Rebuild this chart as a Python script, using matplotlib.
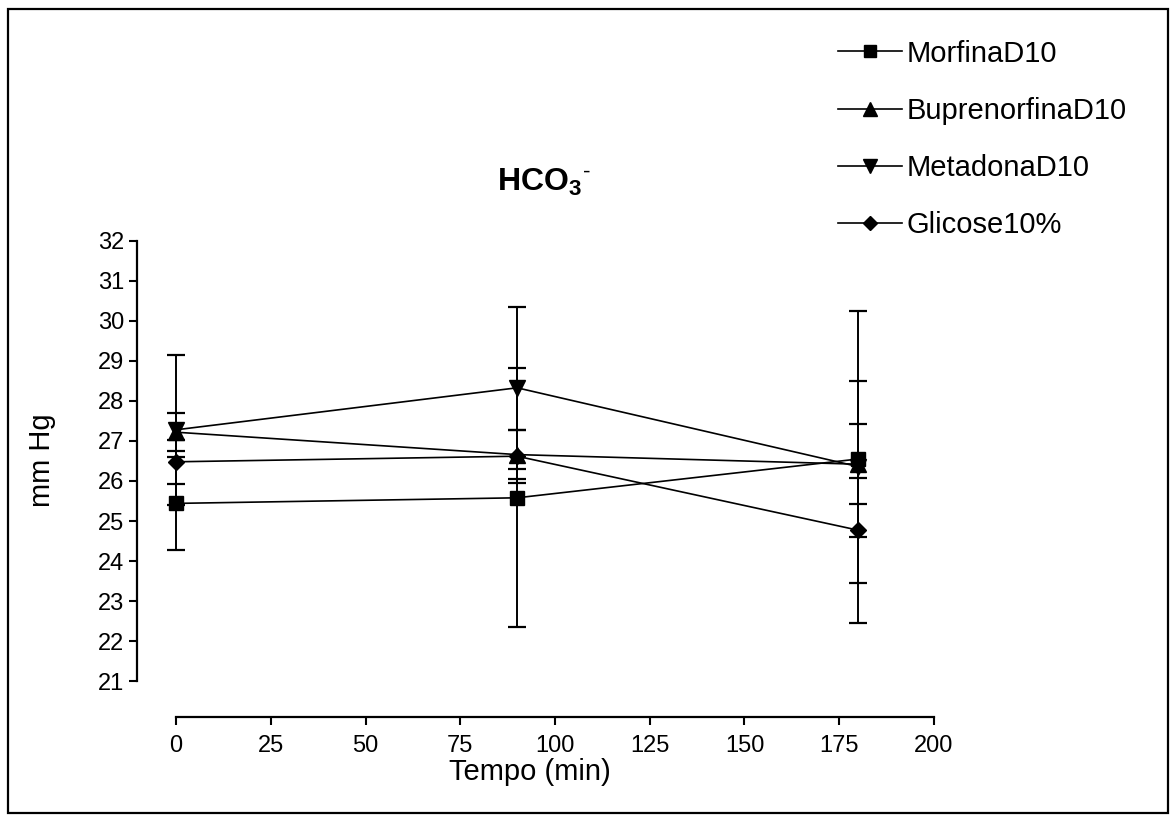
import matplotlib.pyplot as plt
from matplotlib.patches import Rectangle

plt.rcParams['font.family'] = ['Liberation Sans', 'DejaVu Sans']
plt.rcParams['mathtext.fontset'] = 'custom'
plt.rcParams['mathtext.rm'] = 'Liberation Sans'
plt.rcParams['mathtext.bf'] = 'Liberation Sans:bold'

# data
tempo = [0, 90, 180]
morfina = [25.44, 25.58, 26.55]
morfina_sem = [1.17, 3.24, 1.96]
bupre = [27.22, 26.66, 26.42]
bupre_sem = [0.48, 0.62, 1.0]
metadona = [27.28, 28.33, 26.36]
metadona_sem = [1.88, 2.03, 3.9]
glicose = [26.48, 26.62, 24.77]
glicose_sem = [0.55, 0.66, 1.31]

labels = ["MorfinaD10", "BuprenorfinaD10", "MetadonaD10", "Glicose10%"]
series = [morfina, bupre, metadona, glicose]
sems = [morfina_sem, bupre_sem, metadona_sem, glicose_sem]
markers = ["s", "^", "v", "D"]
msizes = [10, 11, 11, 8]

fig = plt.figure(figsize=(11.76, 8.21), dpi=100)
ax = fig.add_axes([176 / 1176, 1 - 681 / 821, 758 / 1176, 440 / 821])

handles = []
for y, e, m, ms, lab in zip(series, sems, markers, msizes, labels):
    h = ax.errorbar(tempo, y, yerr=e, color="black", marker=m, markersize=ms,
                    linewidth=1.2, elinewidth=1.4, capsize=6.5, capthick=1.6,
                    label=lab, clip_on=False)
    for art in h.lines[1] + h.lines[2]:
        art.set_clip_on(False)
    handles.append(h)

ax.set_xlim(0, 200)
ax.set_ylim(21, 32)
ax.set_xticks(range(0, 201, 25))
ax.set_yticks(range(21, 33))
ax.spines["top"].set_visible(False)
ax.spines["right"].set_visible(False)
# offset axes, in points (39 px / 36 px)
ax.spines["left"].set_position(("outward", 28))
ax.spines["bottom"].set_position(("outward", 26))
ax.spines["left"].set_linewidth(1.6)
ax.spines["bottom"].set_linewidth(1.6)
ax.tick_params(direction="out", length=6, width=1.5, labelsize=17, pad=3)
ax.tick_params(axis="x", pad=7)

fig.text(42 / 1176, 1 - 460 / 821, "mm Hg", rotation=90, fontsize=21,
         ha="center", va="center")
fig.text(530 / 1176, 1 - 772 / 821, "Tempo (min)", fontsize=21,
         ha="center", va="center")
fig.text(544 / 1176, 1 - 182 / 821, r"$\mathbf{HCO_3{}^{\text{-}}}$", fontsize=23,
         ha="center", va="center")

leg_handles = [h.lines[0] for h in handles]
fig.legend(leg_handles, labels, loc="upper left",
           bbox_to_anchor=(826 / 1176, 1 - 28 / 821), frameon=False,
           fontsize=21, handlelength=2.2, handletextpad=0.15,
           labelspacing=1.0, borderaxespad=0, markerscale=0.9)

fig.patches.append(Rectangle((8 / 1176, 8 / 821), 1160 / 1176, 804 / 821,
                             transform=fig.transFigure, fill=False,
                             edgecolor="black", linewidth=1.6))

fig.savefig("out.png", dpi=100)
